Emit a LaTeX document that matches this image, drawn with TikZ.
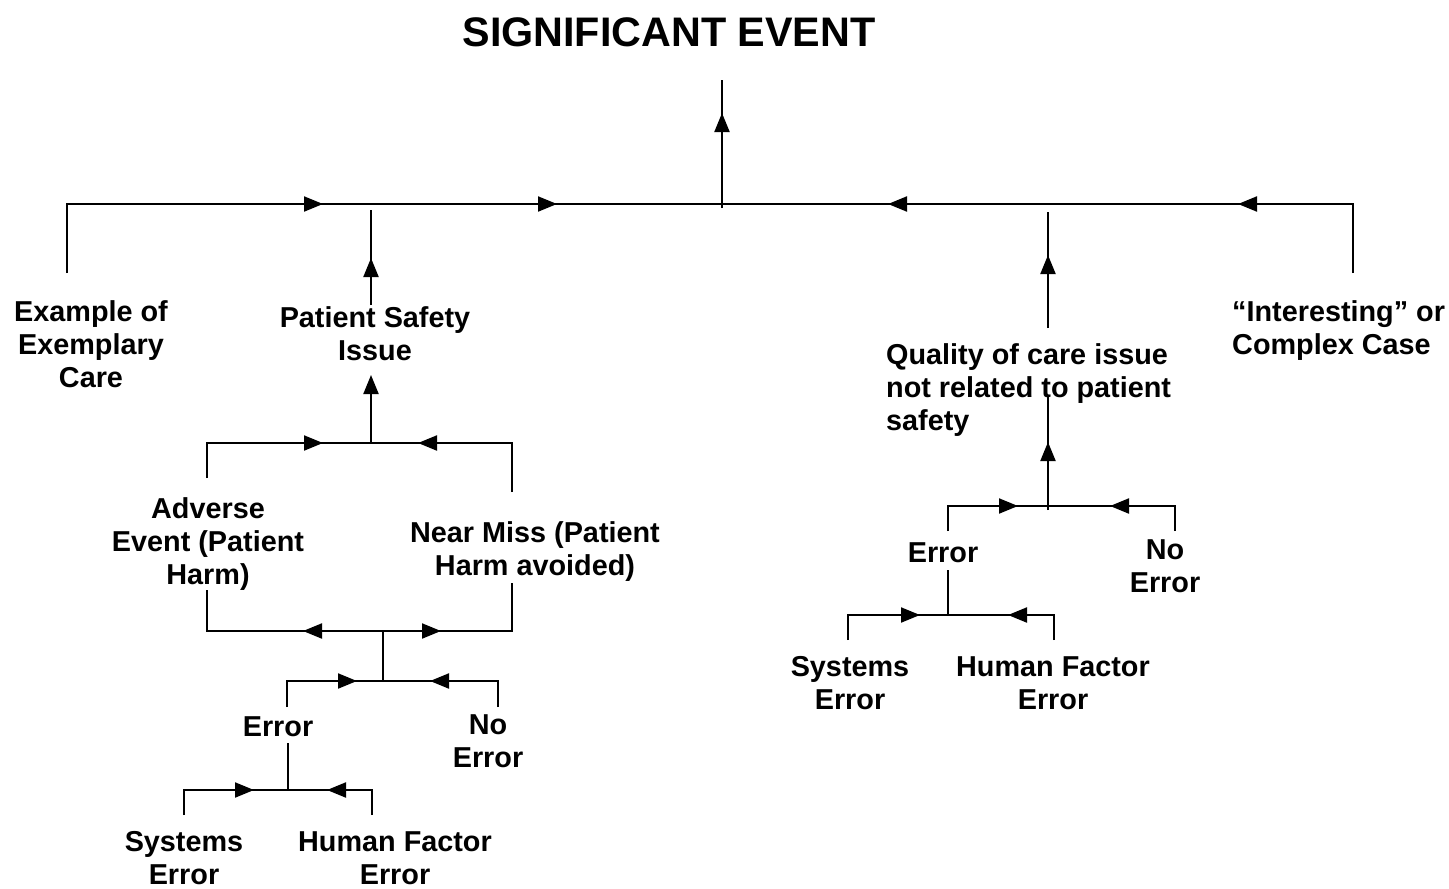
\documentclass[tikz,border=0pt]{standalone}
\usepackage{fontspec}
\setmainfont{Liberation Sans}
\usetikzlibrary{arrows.meta,decorations.markings}
\tikzset{
  conn/.style={line width=2pt},
  arrowat/.style={postaction={decorate,decoration={markings,mark=at position #1 with {\arrow{Triangle[length=19pt,width=15pt]}}}}},
  tipend/.style={-{Triangle[length=19pt,width=15pt]}},
  lbl/.style={font=\bfseries\fontsize{28.8}{33}\selectfont, inner sep=0pt, align=center, anchor=north},
  lbll/.style={font=\bfseries\fontsize{28.8}{33}\selectfont, inner sep=0pt, align=left, anchor=north west},
}
\begin{document}
\begin{tikzpicture}[x=1pt,y=-1pt]
\useasboundingbox (0,0) rectangle (1449,889);
% labels
\node[font=\bfseries\fontsize{41.3}{48}\selectfont, inner sep=0pt, anchor=north] (title) at (669,17) {SIGNIFICANT EVENT};
\node[lbl] (exemplary) at (91,300) {Example of\\Exemplary\\Care};
\node[lbl] (psi) at (375,306) {Patient Safety\\Issue};
\node[lbll] (interesting) at (1232,300) {“Interesting” or\\Complex Case};
\node[lbll] (quality) at (886,343) {Quality of care issue\\not related to patient\\safety};
\node[lbl] (adverse) at (208,497) {Adverse\\Event (Patient\\Harm)};
\node[lbl] (nearmiss) at (535,521) {Near Miss (Patient\\Harm avoided)};
\node[lbl] (errA) at (278,716) {Error};
\node[lbl] (noerrA) at (488,714) {No\\Error};
\node[lbl] (sysA) at (184,831) {Systems\\Error};
\node[lbl] (hfA) at (395,831) {Human Factor\\Error};
\node[lbl] (errB) at (943,542) {Error};
\node[lbl] (noerrB) at (1165,539) {No\\Error};
\node[lbl] (sysB) at (850,656) {Systems\\Error};
\node[lbl] (hfB) at (1053,656) {Human Factor\\Error};
% coordinates
\coordinate (hub) at (722,204);
\coordinate (hubLow) at (722,208);
\coordinate (titleFoot) at (722,80);
\coordinate (exTop) at (67,273);
\coordinate (inTop) at (1353,273);
\coordinate (psiTop) at (371,305);
\coordinate (psiEnd) at (371,210);
\coordinate (quTop) at (1048,328);
\coordinate (quEnd) at (1048,212);
\coordinate (psiBot) at (371,375);
\coordinate (jA) at (371,443);
\coordinate (adTop) at (207,478);
\coordinate (nmTop) at (512,492);
\coordinate (adBot) at (207,590);
\coordinate (nmBot) at (512,583);
\coordinate (jB) at (383,631);
\coordinate (jC) at (383,681);
\coordinate (erATop) at (287,707);
\coordinate (neATop) at (498,707);
\coordinate (erABot) at (288,743);
\coordinate (jD) at (288,790);
\coordinate (syATop) at (184,815);
\coordinate (hfATop) at (372,815);
\coordinate (quBot) at (1048,397);
\coordinate (jE) at (1048,506);
\coordinate (jEl) at (1048,510);
\coordinate (erBTop) at (948,531);
\coordinate (neBTop) at (1175,531);
\coordinate (erBBot) at (948,570);
\coordinate (jF) at (948,615);
\coordinate (syBTop) at (848,640);
\coordinate (hfBTop) at (1054,640);
% top level
\draw[conn, arrowat=325pt, arrowat=559pt] (exTop) |- (hub);
\draw[conn, arrowat=184pt, arrowat=534pt] (inTop) |- (hub);
\draw[conn, arrowat=95pt] (hubLow) -- (titleFoot);
\draw[conn, arrowat=47pt] (psiTop) -- (psiEnd);
\draw[conn, arrowat=73pt] (quTop) -- (quEnd);
% patient safety subtree
\draw[conn, tipend] (jA) -- (psiBot);
\draw[conn, arrowat=151pt] (adTop) |- (jA);
\draw[conn, arrowat=143pt] (nmTop) |- (jA);
\draw[conn, arrowat=80pt] (jB) -| (adBot);
\draw[conn, arrowat=58pt] (jB) -| (nmBot);
\draw[conn] (jB) -- (jC);
\draw[conn, arrowat=96pt] (erATop) |- (jC);
\draw[conn, arrowat=94pt] (neATop) |- (jC);
\draw[conn] (erABot) -- (jD);
\draw[conn, arrowat=95pt] (syATop) |- (jD);
\draw[conn, arrowat=70pt] (hfATop) |- (jD);
% quality subtree
\draw[conn, arrowat=68pt] (jEl) -- (quBot);
\draw[conn, arrowat=95pt] (erBTop) |- (jE);
\draw[conn, arrowat=90pt] (neBTop) |- (jE);
\draw[conn] (erBBot) -- (jF);
\draw[conn, arrowat=97pt] (syBTop) |- (jF);
\draw[conn, arrowat=71pt] (hfBTop) |- (jF);
\end{tikzpicture}
\end{document}
